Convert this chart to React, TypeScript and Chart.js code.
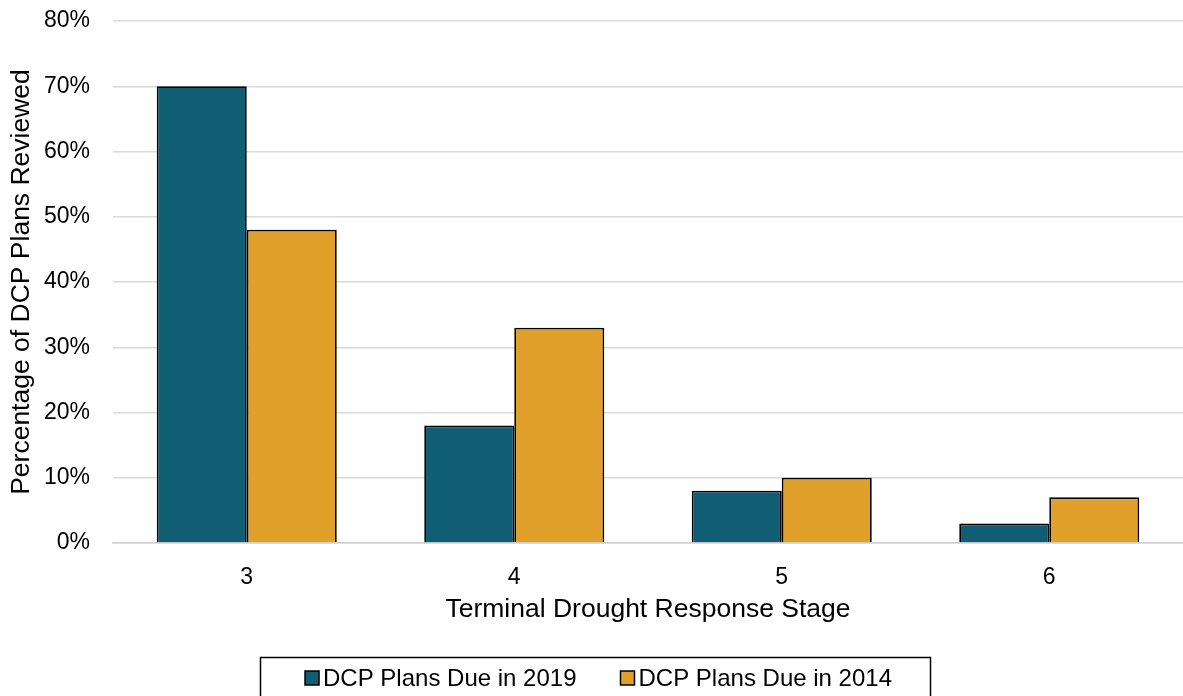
import React, { useEffect, useRef } from 'react';
import { Chart, registerables } from 'chart.js';

Chart.register(...registerables);

const categories = ['3', '4', '5', '6'];
const plansDue2019 = [70, 18, 8, 3];
const plansDue2014 = [48, 33, 10, 7];
const seriesLabels = ['DCP Plans Due in 2019', 'DCP Plans Due in 2014'];
const seriesColors = ['#0f5e74', '#e1a02a'];
const xTitle = 'Terminal Drought Response Stage';
const yTitle = 'Percentage of DCP Plans Reviewed';

const FONT = '"Liberation Sans", Arial, sans-serif';
const TEXT = '#000000';

const boxedLegend = {
  id: 'boxedLegend',
  afterDraw(chart: any) {
    const ctx = chart.ctx as CanvasRenderingContext2D;
    ctx.save();
    ctx.font = `24px ${FONT}`;
    const items = chart.data.datasets.map((ds: any) => ({
      label: ds.label as string,
      color: ds.backgroundColor as string,
      w: ctx.measureText(ds.label).width,
    }));
    const sq = 14;
    const gapText = 4;
    const gapItem = 44;
    const contentW =
      items.reduce((s: number, it: any) => s + sq + gapText + it.w, 0) + gapItem * (items.length - 1);
    const cx = chart.width / 2 + 7;
    let x = cx - contentW / 2;
    const yMid = 678;
    ctx.strokeStyle = '#000';
    ctx.lineWidth = 1.5;
    ctx.strokeRect(Math.round(x - 45) + 0.5, 657.5, Math.round(contentW + 83), 60);
    ctx.textBaseline = 'middle';
    ctx.textAlign = 'left';
    items.forEach((it: any) => {
      ctx.fillStyle = it.color;
      ctx.fillRect(x, yMid - sq / 2, sq, sq);
      ctx.lineWidth = 1.5;
      ctx.strokeStyle = '#000';
      ctx.strokeRect(x, yMid - sq / 2, sq, sq);
      ctx.fillStyle = TEXT;
      ctx.fillText(it.label, x + sq + gapText, yMid + 1);
      x += sq + gapText + it.w + gapItem;
    });
    ctx.restore();
  },
};

export default function App() {
  const ref = useRef<HTMLCanvasElement>(null);
  useEffect(() => {
    document.body.style.margin = '0';
    const chart = new Chart(ref.current!, {
      type: 'bar',
      data: {
        labels: categories,
        datasets: [
          {
            label: seriesLabels[0],
            data: plansDue2019,
            backgroundColor: seriesColors[0],
            borderColor: '#000',
            borderWidth: 1.8,
          },
          {
            label: seriesLabels[1],
            data: plansDue2014,
            backgroundColor: seriesColors[1],
            borderColor: '#000',
            borderWidth: 1.8,
          },
        ],
      },
      options: {
        animation: false,
        responsive: false,
        maintainAspectRatio: false,
        layout: { padding: { top: 21, left: 2, right: 0, bottom: 66 } },
        datasets: { bar: { categoryPercentage: 0.673, barPercentage: 1 } },
        plugins: { legend: { display: false }, tooltip: { enabled: false } },
        scales: {
          x: {
            afterFit: (s: any) => {
              s.height = 87;
              s.paddingLeft = 0;
              s.paddingRight = 0;
            },
            grid: { display: false, drawTicks: false },
            border: { display: true, color: '#cfcfcf', width: 1.5 },
            ticks: { color: TEXT, font: { family: FONT, size: 23 }, padding: 21 },
            title: {
              display: true,
              text: xTitle,
              color: TEXT,
              font: { family: FONT, size: 26.5 },
              padding: { top: 4, bottom: 4 },
            },
          },
          y: {
            min: 0,
            max: 80,
            afterFit: (s: any) => {
              s.width = 111;
              s.paddingTop = 0;
              s.paddingBottom = 0;
            },
            ticks: {
              stepSize: 10,
              color: TEXT,
              font: { family: FONT, size: 23 },
              padding: 23,
              callback: (v: any) => `${v}%`,
            },
            grid: { color: '#d9d9d9', lineWidth: 1.5, drawTicks: false },
            border: { display: false },
            title: {
              display: true,
              text: yTitle,
              color: TEXT,
              font: { family: FONT, size: 26.5 },
              padding: { top: 4, bottom: 4 },
            },
          },
        },
      },
      plugins: [boxedLegend],
    });
    return () => chart.destroy();
  }, []);
  return (
    <div style={{ width: 1183, height: 696 }}>
      <canvas ref={ref} width={1183} height={696} style={{ display: 'block' }} />
    </div>
  );
}
